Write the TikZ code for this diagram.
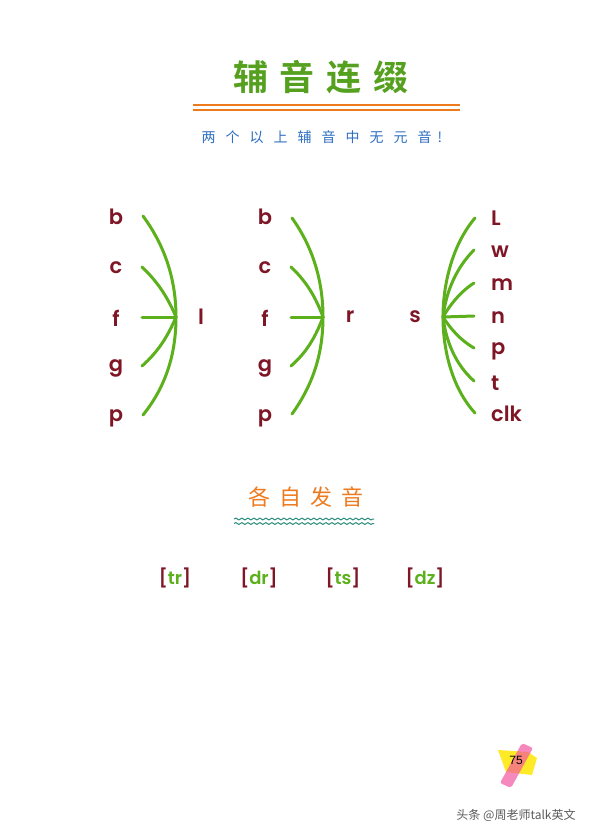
\documentclass[tikz,border=0pt]{standalone}
\usepackage{fontspec}
\newfontfamily\cjk{Noto Sans CJK SC}
\newfontfamily\cjkb{Noto Sans CJK SC Bold}
\newfontfamily\hand{Poppins SemiBold}
\newfontfamily\sans{Liberation Sans}
\usetikzlibrary{decorations.pathmorphing}
\definecolor{lgreen}{HTML}{5CB01C}
\definecolor{tgreen}{HTML}{55A11F}
\definecolor{dred}{HTML}{7E1626}
\definecolor{orng}{HTML}{EE7A1E}
\definecolor{blu}{HTML}{2F6FC0}
\definecolor{teal1}{HTML}{2E8E7C}
\definecolor{gry}{HTML}{5A5A5A}
\tikzset{
  ltr/.style={font=\hand\fontsize{21}{21}\selectfont, text=dred, inner sep=0pt},
  arcline/.style={draw=lgreen, line width=3pt, line cap=round},
  ipa/.style={font=\hand\fontsize{18}{18}\selectfont, inner sep=0pt},
  wave/.style={draw=teal1, line width=1pt, decorate, decoration={snake, amplitude=0.9pt, segment length=6pt}}
}
\begin{document}
\begin{tikzpicture}[x=1pt,y=-1pt]
\useasboundingbox[fill=white] (0,0) rectangle (600,838);
% title
\node[font=\cjkb\fontsize{35}{35}\selectfont, text=tgreen] (title) at (321,77) {辅\hspace{12pt}音\hspace{12pt}连\hspace{12pt}缀};
\draw[orng, line width=1.6pt] (193,105) -- (460,105);
\draw[orng, line width=1.6pt] (193,110) -- (460,110);
\node[font=\cjk\fontsize{14}{14}\selectfont, text=blu] (sub) at (322,137) {两\hspace{10pt}个\hspace{10pt}以\hspace{10pt}上\hspace{10pt}辅\hspace{10pt}音\hspace{10pt}中\hspace{10pt}无\hspace{10pt}元\hspace{10pt}音\hspace{6pt}!};

% group 1
\foreach \n/\y/\t in {b/217/b,c/268/c,f/318/f,g/368/g,p/418/p}{
  \node[ltr] (a\n) at (116,\y) {\t};
}
\coordinate (h1) at (176,317);
\coordinate (a1) at (143,216);
\coordinate (a2) at (142,267);
\coordinate (a3) at (142,317);
\coordinate (a4) at (142,366);
\coordinate (a5) at (143,415);
\node[ltr] (l1) at (201,317) {l};
\draw[arcline] (a1) .. controls (168,250) and (176,285) .. (h1) .. controls (176,350) and (168,384) .. (a5);
\draw[arcline] (a2) .. controls (158,282) and (168,298) .. (h1);
\draw[arcline] (a3) -- (h1);
\draw[arcline] (a4) .. controls (158,352) and (168,336) .. (h1);

% group 2
\foreach \n/\y/\t in {b/217/b,c/268/c,f/318/f,g/368/g,p/418/p}{
  \node[ltr] (b\n) at (265,\y) {\t};
}
\coordinate (h2) at (323,317);
\coordinate (c1) at (292,218);
\coordinate (c2) at (291,267);
\coordinate (c3) at (291,317);
\coordinate (c4) at (291,366);
\coordinate (c5) at (292,414);
\node[ltr] (r2) at (350,317) {r};
\draw[arcline] (c1) .. controls (315,250) and (323,285) .. (h2) .. controls (323,350) and (315,382) .. (c5);
\draw[arcline] (c2) .. controls (307,282) and (316,298) .. (h2);
\draw[arcline] (c3) -- (h2);
\draw[arcline] (c4) .. controls (307,352) and (316,336) .. (h2);

% group 3
\node[ltr] (s3) at (415,317) {s};
\coordinate (h3) at (443,317);
\coordinate (d1) at (475,218);
\coordinate (d2) at (474,250);
\coordinate (d3) at (474,283);
\coordinate (d4) at (474,316);
\coordinate (d5) at (474,348);
\coordinate (d6) at (474,381);
\coordinate (d7) at (475,413);
\draw[arcline] (d1) .. controls (452,245) and (443,285) .. (h3) .. controls (443,350) and (452,388) .. (d7);
\draw[arcline] (d2) .. controls (456,268) and (446,292) .. (h3);
\draw[arcline] (d3) .. controls (460,292) and (450,305) .. (h3);
\draw[arcline] (d4) -- (h3);
\draw[arcline] (d5) .. controls (460,340) and (450,328) .. (h3);
\draw[arcline] (d6) .. controls (456,365) and (446,342) .. (h3);
\node[ltr, anchor=west] (e1) at (491,218) {L};
\node[ltr, anchor=west] (e2) at (491,252) {w};
\node[ltr, anchor=west] (e3) at (491,285) {m};
\node[ltr, anchor=west] (e4) at (491,318) {n};
\node[ltr, anchor=west] (e5) at (491,351) {p};
\node[ltr, anchor=west] (e6) at (491,383) {t};
\node[ltr, anchor=west] (e7) at (491,414) {clk};

% section 2
\node[font=\cjk\fontsize{22}{22}\selectfont, text=orng] (sec) at (306,497) {各\hspace{9pt}自\hspace{9pt}发\hspace{9pt}音};
\draw[wave] (234,519) -- (374,519);
\draw[wave] (234,523.5) -- (374,523.5);

\node[ipa] (i1) at (175,578) {\textcolor{dred}{[}\textcolor{lgreen}{tr}\textcolor{dred}{]}};
\node[ipa] (i2) at (259,578) {\textcolor{dred}{[}\textcolor{lgreen}{dr}\textcolor{dred}{]}};
\node[ipa] (i3) at (343,578) {\textcolor{dred}{[}\textcolor{lgreen}{ts}\textcolor{dred}{]}};
\node[ipa] (i4) at (425,578) {\textcolor{dred}{[}\textcolor{lgreen}{dz}\textcolor{dred}{]}};

% stamp
\fill[yellow!90!orange, opacity=0.85] (498,750) -- (528,752) -- (537,758) -- (532,775) -- (506,772) -- cycle;
\fill[magenta!55!pink, opacity=0.7, rounded corners=2pt] (522,743) -- (533,748) -- (511,788) -- (500,783) -- cycle;
\node[font=\sans\fontsize{12}{12}\selectfont, text=black] (stamp) at (516,760) {75};
\node[font=\cjk\fontsize{12}{12}\selectfont, text=gry] (wm) at (516,815) {头条 @周老师talk英文};
\end{tikzpicture}
\end{document}
